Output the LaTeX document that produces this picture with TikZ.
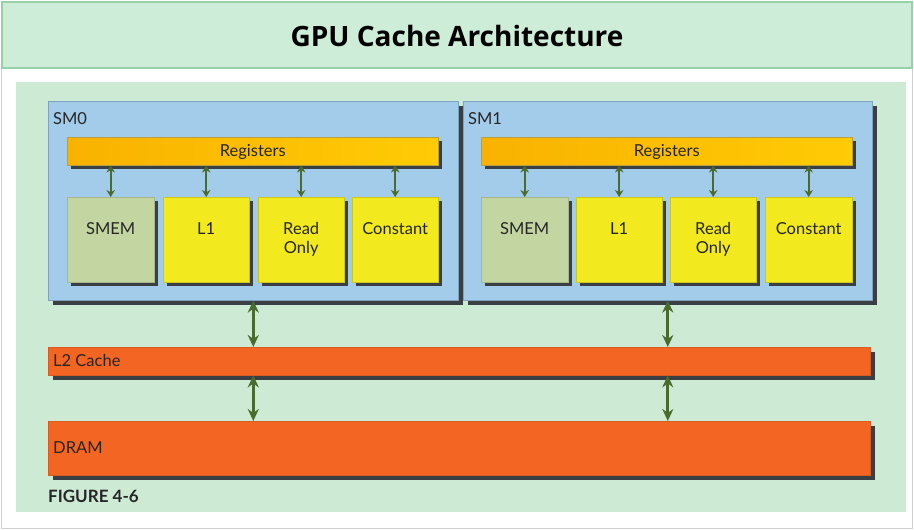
\documentclass[tikz,border=0pt]{standalone}
\usepackage{fontspec}
\setmainfont{Lato}
\newfontfamily\titlefont{Open Sans}
\usetikzlibrary{arrows.meta,shadows}
\definecolor{outerg}{HTML}{D0D0D0}
\definecolor{bandfill}{HTML}{CDEDD9}
\definecolor{banddraw}{HTML}{96D1A9}
\definecolor{panelg}{HTML}{CDEAD4}
\definecolor{smblue}{HTML}{A3CBEA}
\definecolor{smdraw}{HTML}{7FA3BF}
\definecolor{regl}{HTML}{F9B200}
\definecolor{regr}{HTML}{FFCB05}
\definecolor{regd}{HTML}{B8A040}
\definecolor{yel}{HTML}{F2EA1F}
\definecolor{smemg}{HTML}{C3D6A2}
\definecolor{orng}{HTML}{F26522}
\definecolor{arrg}{HTML}{4A6B2E}
\definecolor{shad}{HTML}{3A3F44}
\tikzset{
  shd/.style={drop shadow={shadow xshift=5pt,shadow yshift=-5pt,fill=shad,opacity=1}},
  shds/.style={drop shadow={shadow xshift=4pt,shadow yshift=-4pt,fill=shad,opacity=1}},
  blk/.style={rectangle,anchor=north west,inner sep=0pt},
  smbox/.style={blk,shd,fill=smblue,draw=smdraw,line width=0.6pt},
  regbox/.style={blk,shds,left color=regl,right color=regr,draw=regd,line width=0.5pt},
  ybox/.style={blk,shds,fill=yel,draw=yel!85!black,line width=0.4pt},
  sbox/.style={blk,shds,fill=smemg,draw=smemg!85!black,line width=0.4pt},
  obox/.style={blk,shd,fill=orng,draw=orng!90!black,line width=0.4pt},
  lbl/.style={font=\fontsize{16.5}{19}\selectfont,text=black!85,inner sep=0pt,anchor=base},
  lbll/.style={lbl,anchor=base west},
  sarr/.style={draw=arrg,line width=2.2pt,{Stealth[length=7pt,width=8.5pt]}-{Stealth[length=7pt,width=8.5pt]}},
  barr/.style={draw=arrg,line width=3pt,{Stealth[length=12pt,width=11pt]}-{Stealth[length=12pt,width=11pt]}},
}
\begin{document}
\begin{tikzpicture}[x=1pt,y=-1pt]
\useasboundingbox (0,0) rectangle (914,530);
\draw[outerg,line width=1pt] (1.5,1.5) rectangle (912.5,528.5);
\fill[bandfill] (2,2) rectangle (912,68);
\draw[banddraw,line width=1.2pt] (2,2) rectangle (912,68);
\node[font=\titlefont\bfseries\fontsize{28}{32}\selectfont,inner sep=0pt] (title) at (457,36) {GPU Cache Architecture};
\fill[panelg] (16,82) rectangle (906,512);

% SM boxes
\node[smbox,minimum width=410pt,minimum height=199pt] (sm0) at (48,101) {};
\node[smbox,minimum width=409pt,minimum height=199pt] (sm1) at (463,101) {};
\node[lbll] (sm0l) at (53,124) {SM0};
\node[lbll] (sm1l) at (468,124) {SM1};

% Registers
\node[regbox,minimum width=371pt,minimum height=28pt] (reg0) at (67,137) {};
\node[regbox,minimum width=371pt,minimum height=28pt] (reg1) at (481,137) {};
\node[lbl] (reg0l) at (reg0.center |- 0,156) {Registers};
\node[lbl] (reg1l) at (reg1.center |- 0,156) {Registers};

% SM0 units
\node[sbox,minimum width=87pt,minimum height=85pt] (smem0) at (67,197) {};
\node[ybox,minimum width=86pt,minimum height=85pt] (la0) at (163,197) {};
\node[ybox,minimum width=86pt,minimum height=85pt] (ro0) at (258,197) {};
\node[ybox,minimum width=86pt,minimum height=85pt] (co0) at (352,197) {};
% SM1 units
\node[sbox,minimum width=87pt,minimum height=85pt] (smem1) at (481,197) {};
\node[ybox,minimum width=86pt,minimum height=85pt] (la1) at (576,197) {};
\node[ybox,minimum width=86pt,minimum height=85pt] (ro1) at (670,197) {};
\node[ybox,minimum width=87pt,minimum height=85pt] (co1) at (765,197) {};

\node[lbl] (smem0l) at (smem0.center |- 0,234) {SMEM};
\node[lbl] (la0l) at (la0.center |- 0,234) {L1};
\node[lbl] (ro0la) at (ro0.center |- 0,234) {Read};
\node[lbl] (ro0lb) at (ro0.center |- 0,253) {Only};
\node[lbl] (co0l) at (co0.center |- 0,234) {Constant};
\node[lbl] (smem1l) at (smem1.center |- 0,234) {SMEM};
\node[lbl] (la1l) at (la1.center |- 0,234) {L1};
\node[lbl] (ro1la) at (ro1.center |- 0,234) {Read};
\node[lbl] (ro1lb) at (ro1.center |- 0,253) {Only};
\node[lbl] (co1l) at (co1.center |- 0,234) {Constant};

\foreach \b in {smem0,la0,ro0,co0}{\draw[sarr] (reg0.south -| \b.north) -- (\b.north);}
\foreach \b in {smem1,la1,ro1,co1}{\draw[sarr] (reg1.south -| \b.north) -- (\b.north);}

% L2 and DRAM
\node[obox,minimum width=822pt,minimum height=28pt] (l2) at (48,347) {};
\node[obox,minimum width=822pt,minimum height=54pt] (dram) at (48,421) {};
\node[lbll] (l2l) at (53,366) {L2 Cache};
\node[lbll] (draml) at (53,453) {DRAM};

\draw[barr] (sm0.south) -- (l2.north -| sm0.south);
\draw[barr] (sm1.south) -- (l2.north -| sm1.south);
\draw[barr] (l2.south -| sm0.south) -- (dram.north -| sm0.south);
\draw[barr] (l2.south -| sm1.south) -- (dram.north -| sm1.south);

\node[lbll,font=\bfseries\fontsize{17}{19}\selectfont] (fig) at (48,502) {FIGURE 4-6};
\end{tikzpicture}
\end{document}
